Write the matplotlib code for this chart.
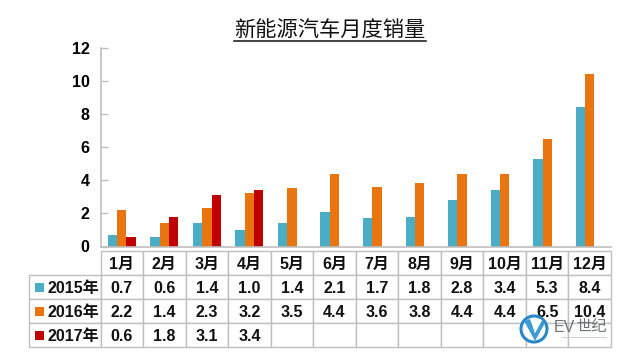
import numpy as np
import matplotlib
matplotlib.use('Agg')
import matplotlib.pyplot as plt
from matplotlib.lines import Line2D
from matplotlib.patches import Rectangle, Circle, Polygon

months = ['1月', '2月', '3月', '4月', '5月', '6月', '7月', '8月', '9月', '10月', '11月', '12月']
years = ['2015年', '2016年', '2017年']
sales_2015 = [0.7, 0.6, 1.4, 1.0, 1.4, 2.1, 1.7, 1.8, 2.8, 3.4, 5.3, 8.4]
sales_2016 = [2.2, 1.4, 2.3, 3.2, 3.5, 4.4, 3.6, 3.8, 4.4, 4.4, 6.5, 10.4]
sales_2017 = [0.6, 1.8, 3.1, 3.4]
colors = ['#4bacc6', '#e8750f', '#c00000']
title = '新能源汽车月度销量'

W, H = 627, 354
fonts = ['Liberation Sans', 'Noto Sans CJK SC', 'DejaVu Sans']
plt.rcParams['font.family'] = fonts

fig = plt.figure(figsize=(W / 100, H / 100), dpi=100)
left, right, top, bottom = 100.5, 611, 47.5, 246.5
ax = fig.add_axes([left / W, 1 - bottom / H, (right - left) / W, (bottom - top) / H])

bar_w = 0.22
x = np.arange(12)
all_sales = [sales_2015, sales_2016, sales_2017]
for i, vals in enumerate(all_sales):
    ax.bar(x[:len(vals)] + (i - 1) * bar_w, vals, bar_w, color=colors[i])

ax.set_xlim(-0.5, 11.5)
ax.set_ylim(0, 12)
ax.set_yticks(range(0, 13, 2))
ax.set_xticks([])
for s in ['top', 'right']:
    ax.spines[s].set_visible(False)
for s in ['left', 'bottom']:
    ax.spines[s].set_color('#bfbfbf')
    ax.spines[s].set_linewidth(1.2)
ax.tick_params(axis='y', direction='in', length=5, width=1.0, color='#bfbfbf', pad=8,
               labelsize=11.5)
for lab in ax.get_yticklabels():
    lab.set_fontweight('bold')

# table below the bars, first column holds the year names
rows = [[''] + months]
for name, vals in zip(years, all_sales):
    rows.append([name] + [f'{v:.1f}' for v in vals] + [''] * (12 - len(vals)))
tb_left, tb_top, tb_bottom = 29, 251, 347
first_w = left - tb_left
col_w = (right - left) / 12
widths = [first_w / (right - tb_left)] + [col_w / (right - tb_left)] * 12
tb = ax.table(cellText=rows, colWidths=widths, cellLoc='center', clip_on=False,
              bbox=[(tb_left - left) / (right - left), (bottom - tb_bottom) / (bottom - top),
                    (right - tb_left) / (right - left), (tb_bottom - tb_top) / (bottom - top)])
tb.auto_set_font_size(False)
for (r, c), cell in tb.get_celld().items():
    cell.set_edgecolor('#bfbfbf')
    cell.set_linewidth(1.0)
    cell.set_text_props(fontweight='bold', fontsize=11.5, color='#111111', va='center_baseline')
    if c == 0:
        cell.set_text_props(ha='right')
        cell.PAD = 0.02
        cell._loc = 'right'
tb[(0, 0)].visible_edges = ''

# legend keys inside the first column
row_h = (tb_bottom - tb_top) / 4
for i, col in enumerate(colors):
    yc = tb_top + row_h * (i + 1.5)
    fig.add_artist(Rectangle((35 / W, 1 - (yc + 4.5) / H), 8.5 / W, 9 / H,
                             transform=fig.transFigure, color=col, lw=0))

# title with underline
fig.text(330 / W, 1 - 31 / H, title, ha='center', va='center', fontsize=15.3, fontweight='medium',
         family=['Noto Sans CJK SC', 'DejaVu Sans'], color='#111111')
fig.add_artist(Line2D([234 / W, 426 / W], [1 - 41 / H, 1 - 41 / H], color='#111111', lw=1.1))

# EV logo, overlay axes in pixel units
logo = fig.add_axes([0, 0, 1, 1], facecolor='none')
logo.set_xlim(0, W)
logo.set_ylim(H, 0)
logo.axis('off')
logo.add_patch(Circle((534, 329), 13, facecolor='white', edgecolor='#2a86c4', lw=2.2))
logo.add_patch(Polygon([[524, 321], [530, 319], [535, 333], [542, 320], [545, 323], [535, 341]],
                       closed=True, facecolor='#3f9bd3', edgecolor='none'))
logo.add_patch(Polygon([[531, 319], [534, 319], [536, 327], [540, 319], [542, 320], [535, 333]],
                       closed=True, facecolor='white', edgecolor='none'))
logo.text(564, 328, 'EV', ha='center', va='center', fontsize=11.5, color='#6f7477',
          family=['Liberation Sans'])
logo.text(591, 327, '世纪', ha='center', va='center', fontsize=11, color='#6f7477',
          family=['Noto Sans CJK SC'])
logo.plot([562, 606], [337, 337], color='#c8c8c8', lw=0.6)

fig.savefig('out.png', dpi=100)
